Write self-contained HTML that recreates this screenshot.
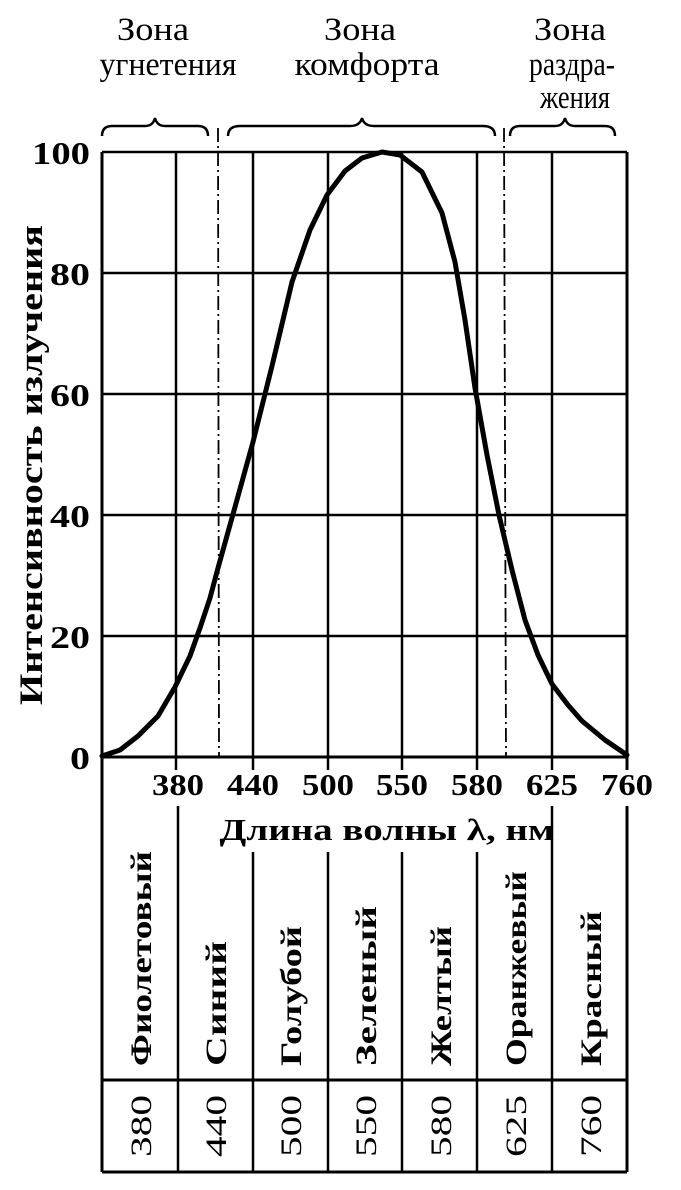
<!DOCTYPE html>
<html><head><meta charset="utf-8"><style>
html,body{margin:0;padding:0;background:#fff;}
svg{display:block;}
text{font-family:"Liberation Serif",serif;fill:#000;}
</style></head><body>
<svg width="681" height="1190" viewBox="0 0 681 1190" xmlns="http://www.w3.org/2000/svg">
<!-- headers -->
<g font-size="33">
<text x="153" y="40" text-anchor="middle" textLength="72" lengthAdjust="spacingAndGlyphs">Зона</text>
<text x="168" y="75" text-anchor="middle" textLength="137" lengthAdjust="spacingAndGlyphs">угнетения</text>
<text x="360" y="40" text-anchor="middle" textLength="72" lengthAdjust="spacingAndGlyphs">Зона</text>
<text x="367" y="75" text-anchor="middle" textLength="145" lengthAdjust="spacingAndGlyphs">комфорта</text>
<text x="570" y="40" text-anchor="middle" textLength="72" lengthAdjust="spacingAndGlyphs">Зона</text>
<text x="572" y="75" text-anchor="middle" textLength="86" lengthAdjust="spacingAndGlyphs">раздра-</text>
<text x="575" y="108" text-anchor="middle" textLength="70" lengthAdjust="spacingAndGlyphs">жения</text>
</g>
<!-- braces -->
<g fill="none" stroke="#000" stroke-width="2.5">
<path d="M102,136 Q102,126 112,126 L145,126 Q153,126 155,118 Q157,126 165,126 L198,126 Q208,126 208,136"/>
<path d="M228,136 Q228,126 240,126 L350,126 Q360,126 362,118 Q364,126 374,126 L483,126 Q495,126 495,136"/>
<path d="M510,136 Q510,126 520,126 L555,126 Q563,126 565,118 Q567,126 575,126 L605,126 Q615,126 615,136"/>
</g>
<!-- grid -->
<g stroke="#000" stroke-width="2.5">
<line x1="102" y1="152" x2="627" y2="152"/>
<line x1="102" y1="273" x2="627" y2="273"/>
<line x1="102" y1="394" x2="627" y2="394"/>
<line x1="102" y1="515" x2="627" y2="515"/>
<line x1="102" y1="636" x2="627" y2="636"/>
<line x1="102" y1="757" x2="627" y2="757" stroke-width="3"/>
<line x1="102" y1="152" x2="102" y2="1172" stroke-width="3"/>
<line x1="627" y1="152" x2="627" y2="770" stroke-width="3"/>
<line x1="176" y1="152" x2="176" y2="770"/>
<line x1="253" y1="152" x2="253" y2="770"/>
<line x1="328" y1="152" x2="328" y2="770"/>
<line x1="402" y1="152" x2="402" y2="770"/>
<line x1="477" y1="152" x2="477" y2="770"/>
<line x1="552" y1="152" x2="552" y2="770"/>
</g>
<g stroke="#000" stroke-width="1.8" stroke-dasharray="14,4,2,4">
<line x1="218" y1="128" x2="219" y2="757"/>
<line x1="504" y1="128" x2="506" y2="757"/>
</g>
<!-- curve -->
<polyline fill="none" stroke="#000" stroke-width="5" stroke-linejoin="round" stroke-linecap="round"
points="102,756 120,750 138,736 158,716 175,687 190,656 200,628 210,598 218,568 235,507 253,442 272,366 292,282 310,230 327,195 345,171 362,158 382,152 400,155 422,172 442,213 455,262 465,320 475,388 487,455 499,515 512,570 525,620 538,655 552,684 568,705 582,721 605,740 627,755"/>
<!-- y ticks -->
<g font-size="32" font-weight="bold" text-anchor="end">
<text x="90" y="164" textLength="58" lengthAdjust="spacingAndGlyphs">100</text>
<text x="90" y="285" textLength="40" lengthAdjust="spacingAndGlyphs">80</text>
<text x="90" y="406" textLength="40" lengthAdjust="spacingAndGlyphs">60</text>
<text x="90" y="527" textLength="40" lengthAdjust="spacingAndGlyphs">40</text>
<text x="90" y="648" textLength="40" lengthAdjust="spacingAndGlyphs">20</text>
<text x="90" y="769" textLength="20" lengthAdjust="spacingAndGlyphs">0</text>
</g>
<text transform="translate(42,465) rotate(-90)" font-size="33" font-weight="bold" text-anchor="middle" textLength="480" lengthAdjust="spacingAndGlyphs">Интенсивность излучения</text>
<!-- x ticks -->
<g font-size="31" font-weight="bold" text-anchor="middle">
<text x="178" y="795" textLength="52" lengthAdjust="spacingAndGlyphs">380</text>
<text x="253" y="795" textLength="52" lengthAdjust="spacingAndGlyphs">440</text>
<text x="328" y="795" textLength="52" lengthAdjust="spacingAndGlyphs">500</text>
<text x="402" y="795" textLength="52" lengthAdjust="spacingAndGlyphs">550</text>
<text x="477" y="795" textLength="52" lengthAdjust="spacingAndGlyphs">580</text>
<text x="552" y="795" textLength="52" lengthAdjust="spacingAndGlyphs">625</text>
<text x="627" y="795" textLength="52" lengthAdjust="spacingAndGlyphs">760</text>
</g>
<text x="387" y="840" font-size="31" font-weight="bold" text-anchor="middle" textLength="335" lengthAdjust="spacingAndGlyphs">Длина волны λ,  нм</text>
<!-- table -->
<g stroke="#000" stroke-width="2.5">
<line x1="178" y1="806" x2="178" y2="1172"/>
<line x1="253" y1="852" x2="253" y2="1172"/>
<line x1="328" y1="852" x2="328" y2="1172"/>
<line x1="402" y1="852" x2="402" y2="1172"/>
<line x1="477" y1="852" x2="477" y2="1172"/>
<line x1="552" y1="806" x2="552" y2="1172"/>
<line x1="627" y1="806" x2="627" y2="1172" stroke-width="3"/>
<line x1="102" y1="1080" x2="627" y2="1080" stroke-width="3"/>
<line x1="102" y1="1172" x2="627" y2="1172" stroke-width="3"/>
</g>
<g font-size="30" font-weight="bold">
<text transform="translate(151,1066) rotate(-90)" textLength="215" lengthAdjust="spacingAndGlyphs">Фиолетовый</text>
<text transform="translate(226,1066) rotate(-90)" textLength="125" lengthAdjust="spacingAndGlyphs">Синий</text>
<text transform="translate(301,1066) rotate(-90)" textLength="140" lengthAdjust="spacingAndGlyphs">Голубой</text>
<text transform="translate(376,1066) rotate(-90)" textLength="160" lengthAdjust="spacingAndGlyphs">Зеленый</text>
<text transform="translate(451,1066) rotate(-90)" textLength="140" lengthAdjust="spacingAndGlyphs">Желтый</text>
<text transform="translate(526,1066) rotate(-90)" textLength="195" lengthAdjust="spacingAndGlyphs">Оранжевый</text>
<text transform="translate(601,1066) rotate(-90)" textLength="155" lengthAdjust="spacingAndGlyphs">Красный</text>
</g>
<g font-size="30" text-anchor="middle">
<text transform="translate(151,1126) rotate(-90)" textLength="62" lengthAdjust="spacingAndGlyphs">380</text>
<text transform="translate(226,1126) rotate(-90)" textLength="62" lengthAdjust="spacingAndGlyphs">440</text>
<text transform="translate(301,1126) rotate(-90)" textLength="62" lengthAdjust="spacingAndGlyphs">500</text>
<text transform="translate(376,1126) rotate(-90)" textLength="62" lengthAdjust="spacingAndGlyphs">550</text>
<text transform="translate(451,1126) rotate(-90)" textLength="62" lengthAdjust="spacingAndGlyphs">580</text>
<text transform="translate(526,1126) rotate(-90)" textLength="62" lengthAdjust="spacingAndGlyphs">625</text>
<text transform="translate(601,1126) rotate(-90)" textLength="62" lengthAdjust="spacingAndGlyphs">760</text>
</g>
</svg>
</body></html>
